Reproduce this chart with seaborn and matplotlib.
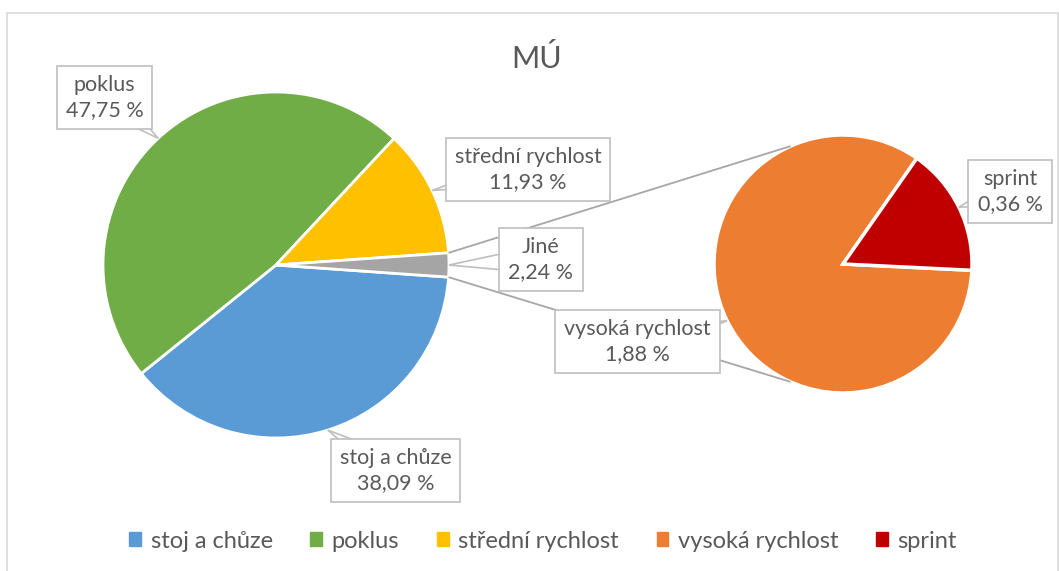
import numpy as np
import matplotlib
matplotlib.use("Agg")
import matplotlib.pyplot as plt
from matplotlib.patches import Patch, Polygon, Rectangle
import seaborn as sns

# data
main_labels = ["stoj a chůze", "poklus", "střední rychlost", "Jiné"]
main_values = [38.09, 47.75, 11.93, 2.24]
main_colors = ["#5B9BD5", "#70AD47", "#FFC000", "#A5A5A5"]

sub_labels = ["vysoká rychlost", "sprint"]
sub_values = [1.88, 0.36]
sub_colors = ["#ED7D31", "#C00000"]

legend_labels = ["stoj a chůze", "poklus", "střední rychlost", "vysoká rychlost", "sprint"]
legend_colors = ["#5B9BD5", "#70AD47", "#FFC000", "#ED7D31", "#C00000"]

title = "MÚ"

sns.set_theme(style="white")
plt.rcParams["font.family"] = ["Lato", "DejaVu Sans"]

W, H = 1059, 571
TXT = "#595959"
EDGE = "#BFBFBF"

fig = plt.figure(figsize=(W / 100, H / 100), dpi=100)
ax = fig.add_axes([0, 0, 1, 1])

# main pie, "Jiné" centred on the right side
c1, r1 = (276, H - 265), 173
start = -360 * main_values[-1] / sum(main_values) / 2
w1, _ = ax.pie(main_values, colors=main_colors, startangle=start, counterclock=False,
               center=c1, radius=r1, wedgeprops=dict(edgecolor="white", linewidth=2))

# secondary pie
c2, r2 = (843, H - 264), 129
w2, _ = ax.pie(sub_values, colors=sub_colors, startangle=-2.8, counterclock=False,
               center=c2, radius=r2, wedgeprops=dict(edgecolor="white", linewidth=2.5))


def edge_point(wedge):
    a = np.deg2rad((wedge.theta1 + wedge.theta2) / 2)
    cx, cy = wedge.center
    return cx + wedge.r * np.cos(a), cy + wedge.r * np.sin(a)


# connector lines from "Jiné" wedge to secondary pie
g = w1[-1]
for ang_main, ang_sub in [(g.theta2, 114), (g.theta1, -114)]:
    a, b = np.deg2rad(ang_main), np.deg2rad(ang_sub)
    x0, y0 = c1[0] + r1 * np.cos(a), c1[1] + r1 * np.sin(a)
    x1, y1 = c2[0] + r2 * np.cos(b), c2[1] + r2 * np.sin(b)
    ax.plot([x0, x1], [y0, y1], color="#A6A6A6", lw=1.3, zorder=1, solid_capstyle="butt")

# callout labels
boxes = {
    "poklus": (104.5, 97.5),
    "střední rychlost": (528, 169.5),
    "Jiné": (541, 259.5),
    "vysoká rychlost": (637.5, 341.5),
    "sprint": (1010, 191.5),
    "stoj a chůze": (395.5, 470.5),
}
wedges = dict(zip(main_labels, w1))
wedges.update(zip(sub_labels, w2))
values = dict(zip(main_labels, main_values))
values.update(zip(sub_labels, sub_values))

for name, (bx, by) in boxes.items():
    by = H - by
    px, py = edge_point(wedges[name])
    d = np.array([px - bx, py - by])
    n = np.array([-d[1], d[0]]) / np.hypot(*d)
    hw = 14
    tail = Polygon([(px, py), (bx + n[0] * hw, by + n[1] * hw), (bx - n[0] * hw, by - n[1] * hw)],
                   closed=True, fc="white", ec=EDGE, lw=1.2, zorder=4)
    ax.add_patch(tail)
    lab = f"{name}\n{values[name]:.2f} %".replace(".", ",")
    ax.text(bx, by, lab, ha="center", va="center", fontsize=15.5, color=TXT, linespacing=1.35,
            zorder=5, bbox=dict(boxstyle="square,pad=0.42", fc="white", ec=EDGE, lw=1.2))

ax.text(537, H - 58, title, ha="center", va="center", fontsize=22, color=TXT)

handles = [Patch(color=c, label=l) for c, l in zip(legend_colors, legend_labels)]
ax.legend(handles=handles, loc="center", bbox_to_anchor=(543 / W, 1 - 541 / H), ncol=5,
          frameon=False, fontsize=17, handlelength=0.5, handleheight=0.5, handletextpad=0.4,
          columnspacing=1.6, labelcolor=TXT)

ax.add_patch(Rectangle((7, -5), W - 8, H - 13 + 5, fill=False, ec="#D9D9D9", lw=1.2, zorder=0))

ax.set_xlim(0, W)
ax.set_ylim(0, H)
ax.set_aspect("equal")
ax.axis("off")

fig.savefig("out.png", dpi=100, facecolor="white")
